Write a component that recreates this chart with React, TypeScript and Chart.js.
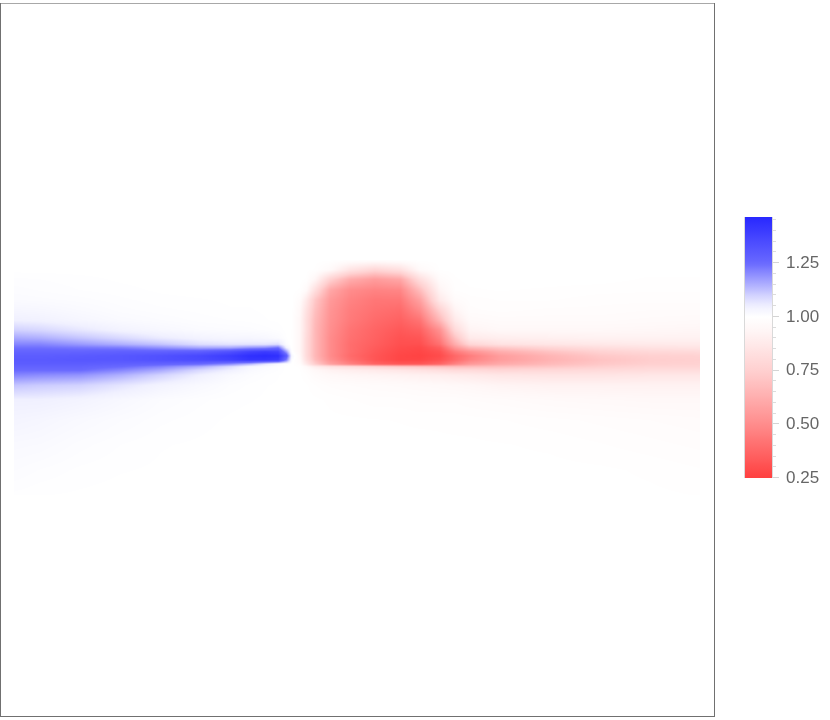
import React, { useEffect, useRef } from "react";
import { Chart, registerables } from "chart.js";

Chart.register(...registerables);

// Sample positions in the plot's own units (0..100 across the image in each direction)
const xGrid = [0, 3.8, 9.6, 15.5, 21.3, 27.1, 31.5, 34.4, 36.6, 38.5, 39.7, 40.5, 41.7, 42.6, 43.9, 46.1, 49, 52.6, 56.3, 59.2, 62.1, 64.3, 66.5, 70.8, 78.1, 85.4, 92.7, 100];
const yGrid = [64.6, 63.2, 61.8, 60.2, 58.8, 57.3, 55.8, 54.4, 53.2, 52.3, 51.8, 51.2, 50.6, 50, 49.4, 49, 48.5, 47.8, 46.3, 44.2, 41.2, 37.6, 33.9, 30.3];

const row01 = [1, 1, 1, 1, 1, 1, 1, 1, 1, 1, 1, 1, 1, 1, 1, 0.998, 0.99, 0.985, 0.99, 1, 1, 1, 1, 1, 1, 1, 1, 1];
const row02 = [1, 1, 1, 1, 1, 1, 1, 1, 1, 1, 1, 1, 1, 1, 0.995, 0.96, 0.85, 0.78, 0.83, 0.96, 0.998, 1, 1, 1, 1, 1, 1, 1];
const row03 = [1.006, 1.005, 1.003, 1.001, 1, 1, 1, 1, 1, 1, 1, 1, 1, 0.995, 0.94, 0.76, 0.62, 0.56, 0.6, 0.82, 0.97, 0.995, 1, 1, 1, 1, 0.995, 0.995];
const row04 = [1.01, 1.008, 1.005, 1.003, 1.001, 1, 1, 1, 1, 1, 1, 1, 0.995, 0.96, 0.82, 0.6, 0.5, 0.47, 0.48, 0.68, 0.93, 0.99, 0.995, 0.997, 0.995, 0.992, 0.99, 0.99];
const row05 = [1.015, 1.013, 1.01, 1.006, 1.003, 1.002, 1.001, 1.001, 1, 1, 1, 1, 0.97, 0.88, 0.72, 0.55, 0.47, 0.43, 0.43, 0.58, 0.88, 0.97, 0.985, 0.99, 0.99, 0.985, 0.985, 0.985];
const row06 = [1.03, 1.027, 1.018, 1.01, 1.006, 1.004, 1.002, 1.002, 1.001, 1, 1, 1, 0.95, 0.84, 0.69, 0.53, 0.45, 0.41, 0.39, 0.5, 0.76, 0.93, 0.98, 0.985, 0.98, 0.98, 0.975, 0.975];
const row07 = [1.05, 1.045, 1.03, 1.018, 1.012, 1.007, 1.005, 1.004, 1.002, 1.001, 1, 0.998, 0.94, 0.82, 0.67, 0.52, 0.44, 0.39, 0.36, 0.42, 0.66, 0.88, 0.96, 0.97, 0.97, 0.97, 0.965, 0.96];
const row08 = [1.1, 1.09, 1.065, 1.04, 1.025, 1.015, 1.012, 1.01, 1.007, 1.004, 1, 0.996, 0.94, 0.82, 0.66, 0.51, 0.42, 0.37, 0.33, 0.36, 0.52, 0.8, 0.93, 0.95, 0.95, 0.95, 0.945, 0.94];
const row09 = [1.16, 1.15, 1.12, 1.09, 1.06, 1.04, 1.03, 1.03, 1.025, 1.015, 1.002, 0.996, 0.94, 0.81, 0.66, 0.5, 0.41, 0.36, 0.31, 0.32, 0.46, 0.7, 0.88, 0.9, 0.91, 0.92, 0.92, 0.92];
const row10 = [1.21, 1.21, 1.18, 1.15, 1.12, 1.08, 1.07, 1.07, 1.07, 1.08, 1.01, 0.996, 0.94, 0.81, 0.66, 0.5, 0.4, 0.35, 0.3, 0.3, 0.41, 0.62, 0.78, 0.84, 0.86, 0.87, 0.88, 0.88];
const row11 = [1.24, 1.24, 1.23, 1.22, 1.19, 1.16, 1.16, 1.19, 1.2, 1.24, 1.05, 0.998, 0.94, 0.81, 0.66, 0.5, 0.4, 0.34, 0.29, 0.28, 0.35, 0.54, 0.66, 0.72, 0.78, 0.82, 0.84, 0.85];
const row12 = [1.27, 1.27, 1.27, 1.28, 1.28, 1.29, 1.33, 1.38, 1.4, 1.38, 1.18, 1.002, 0.94, 0.81, 0.66, 0.5, 0.4, 0.33, 0.28, 0.27, 0.31, 0.44, 0.52, 0.62, 0.7, 0.76, 0.79, 0.8];
const row13 = [1.29, 1.29, 1.3, 1.31, 1.33, 1.36, 1.4, 1.44, 1.45, 1.44, 1.3, 1.03, 0.95, 0.81, 0.66, 0.5, 0.39, 0.32, 0.27, 0.26, 0.29, 0.38, 0.45, 0.56, 0.65, 0.72, 0.75, 0.76];
const row14 = [1.3, 1.3, 1.31, 1.31, 1.33, 1.35, 1.38, 1.42, 1.42, 1.4, 1.22, 1.01, 0.96, 0.83, 0.68, 0.52, 0.41, 0.32, 0.27, 0.27, 0.31, 0.39, 0.47, 0.56, 0.64, 0.7, 0.74, 0.75];
const row15 = [1.29, 1.29, 1.29, 1.28, 1.27, 1.25, 1.2, 1.14, 1.07, 1.02, 1.005, 1, 0.98, 0.88, 0.74, 0.58, 0.47, 0.37, 0.33, 0.33, 0.38, 0.47, 0.55, 0.61, 0.67, 0.72, 0.75, 0.76];
const row16 = [1.27, 1.27, 1.27, 1.25, 1.21, 1.15, 1.08, 1.03, 1.015, 1.005, 1, 1, 0.995, 0.96, 0.9, 0.85, 0.82, 0.78, 0.74, 0.72, 0.7, 0.69, 0.69, 0.7, 0.72, 0.75, 0.78, 0.78];
const row17 = [1.25, 1.25, 1.25, 1.21, 1.16, 1.09, 1.05, 1.02, 1.01, 1.005, 1, 1, 0.997, 0.98, 0.95, 0.92, 0.9, 0.88, 0.86, 0.84, 0.82, 0.8, 0.8, 0.78, 0.79, 0.8, 0.81, 0.81];
const row18 = [1.21, 1.2, 1.19, 1.15, 1.1, 1.05, 1.02, 1.01, 1.005, 1.002, 1, 1, 0.998, 0.99, 0.97, 0.95, 0.94, 0.93, 0.92, 0.91, 0.9, 0.89, 0.88, 0.86, 0.85, 0.85, 0.86, 0.86];
const row19 = [1.12, 1.11, 1.1, 1.07, 1.04, 1.02, 1.008, 1.004, 1.002, 1.001, 1, 1, 1, 0.998, 0.99, 0.98, 0.975, 0.97, 0.965, 0.96, 0.955, 0.95, 0.945, 0.93, 0.92, 0.92, 0.92, 0.92];
const row20 = [1.05, 1.05, 1.04, 1.025, 1.012, 1.006, 1.003, 1.002, 1.001, 1, 1, 1, 1, 1, 0.998, 0.995, 0.99, 0.985, 0.985, 0.98, 0.98, 0.98, 0.975, 0.97, 0.96, 0.955, 0.95, 0.95];
const row21 = [1.035, 1.03, 1.02, 1.012, 1.006, 1.003, 1.001, 1, 1, 1, 1, 1, 1, 1, 1, 0.998, 0.998, 0.997, 0.996, 0.995, 0.995, 0.994, 0.993, 0.99, 0.985, 0.98, 0.975, 0.97];
const row22 = [1.02, 1.018, 1.01, 1.005, 1.002, 1.001, 1, 1, 1, 1, 1, 1, 1, 1, 1, 1, 1, 1, 0.999, 0.999, 0.998, 0.998, 0.998, 0.997, 0.995, 0.99, 0.985, 0.98];
const row23 = [1.012, 1.008, 1.004, 1.002, 1.001, 1, 1, 1, 1, 1, 1, 1, 1, 1, 1, 1, 1, 1, 1, 1, 1, 1, 1, 0.999, 0.999, 0.998, 0.995, 0.99];
const row24 = [1.004, 1.002, 1.001, 1, 1, 1, 1, 1, 1, 1, 1, 1, 1, 1, 1, 1, 1, 1, 1, 1, 1, 1, 1, 1, 1, 0.999, 0.998, 0.996];
const heatRows = [row01, row02, row03, row04, row05, row06, row07, row08, row09, row10, row11, row12, row13, row14, row15, row16, row17, row18, row19, row20, row21, row22, row23, row24];

// Colour scale
const stopValues = [0.25, 0.5, 0.75, 0.95, 1, 1.05, 1.1, 1.2, 1.25, 1.465];
const stopRed = [255, 255, 255, 255, 255, 240, 210, 140, 105, 40];
const stopGreen = [64, 140, 208, 248, 255, 240, 210, 140, 105, 40];
const stopBlue = [64, 140, 208, 248, 255, 255, 255, 255, 255, 255];

const legendTicks = [0.25, 0.5, 0.75, 1, 1.25];
const legendRange = [0.25, 1.465];
const FONT = '"Liberation Sans", Arial, sans-serif';

function colourOf(v: number): [number, number, number] {
  const n = stopValues.length;
  if (v <= stopValues[0]) return [stopRed[0], stopGreen[0], stopBlue[0]];
  if (v >= stopValues[n - 1]) return [stopRed[n - 1], stopGreen[n - 1], stopBlue[n - 1]];
  let i = 0;
  while (v > stopValues[i + 1]) i++;
  const t = (v - stopValues[i]) / (stopValues[i + 1] - stopValues[i]);
  return [
    stopRed[i] + (stopRed[i + 1] - stopRed[i]) * t,
    stopGreen[i] + (stopGreen[i + 1] - stopGreen[i]) * t,
    stopBlue[i] + (stopBlue[i + 1] - stopBlue[i]) * t,
  ];
}

function locate(grid: number[], value: number): [number, number] | null {
  const asc = grid[grid.length - 1] > grid[0];
  const lo = asc ? grid[0] : grid[grid.length - 1];
  const hi = asc ? grid[grid.length - 1] : grid[0];
  if (value < lo || value > hi) return null;
  for (let i = 0; i < grid.length - 1; i++) {
    const a = grid[i];
    const b = grid[i + 1];
    if ((value >= a && value <= b) || (value <= a && value >= b)) return [i, (value - a) / (b - a)];
  }
  return null;
}

const densityPlugin = {
  id: "density",
  beforeDatasetsDraw(chart: any) {
    const { ctx, chartArea, scales } = chart;
    const pts = chart.data.datasets[0].data as { v: number }[];
    const nx = xGrid.length;
    const left = Math.round(chartArea.left);
    const top = Math.round(chartArea.top);
    const w = Math.round(chartArea.right) - left;
    const h = Math.round(chartArea.bottom) - top;
    const img = ctx.createImageData(w, h);
    const cols: ([number, number] | null)[] = [];
    for (let px = 0; px < w; px++) cols.push(locate(xGrid, scales.x.getValueForPixel(left + px + 0.5)));
    for (let py = 0; py < h; py++) {
      const r = locate(yGrid, scales.y.getValueForPixel(top + py + 0.5));
      for (let px = 0; px < w; px++) {
        const k = (py * w + px) * 4;
        let c: [number, number, number] = [255, 255, 255];
        const q = cols[px];
        if (r && q) {
          const [j, s] = r;
          const [i, t] = q;
          const a = pts[j * nx + i].v;
          const b = pts[j * nx + i + 1].v;
          const d = pts[(j + 1) * nx + i].v;
          const e = pts[(j + 1) * nx + i + 1].v;
          c = colourOf((a * (1 - t) + b * t) * (1 - s) + (d * (1 - t) + e * t) * s);
        }
        img.data[k] = c[0];
        img.data[k + 1] = c[1];
        img.data[k + 2] = c[2];
        img.data[k + 3] = 255;
      }
    }
    ctx.putImageData(img, left, top);
  },
  afterDatasetsDraw(chart: any) {
    const { ctx, chartArea: a } = chart;
    ctx.save();
    ctx.fillStyle = "#a8a8a8";
    ctx.fillRect(a.left - 1, a.top - 1, a.right - a.left + 2, 1);
    ctx.fillStyle = "#707070";
    ctx.fillRect(a.left - 1, a.top - 1, 1, a.bottom - a.top + 2);
    ctx.fillRect(a.right, a.top - 1, 1, a.bottom - a.top + 2);
    ctx.fillRect(a.left - 1, a.bottom, a.right - a.left + 2, 1);
    ctx.restore();
  },
};

const legendMarksPlugin = {
  id: "legendMarks",
  afterDatasetsDraw(chart: any) {
    const { ctx, chartArea: a, scales } = chart;
    ctx.save();
    ctx.fillStyle = "rgba(170,170,170,0.45)";
    ctx.fillRect(a.left - 1, a.top, 1, a.bottom - a.top);
    ctx.fillRect(a.right, a.top, 1, a.bottom - a.top);
    for (let n = 5; n <= 29; n++) {
      const v = n / 20;
      const major = n % 5 === 0;
      const y = Math.round(scales.y.getPixelForValue(v)) - 0.5;
      ctx.strokeStyle = major ? "#d4d4d4" : "#dcdcdc";
      ctx.lineWidth = 1;
      ctx.beginPath();
      ctx.moveTo(a.right + 1, y);
      ctx.lineTo(a.right + (major ? 7 : 4), y);
      ctx.stroke();
    }
    ctx.restore();
  },
};

export default function App() {
  const mainRef = useRef<HTMLCanvasElement>(null);
  const legendRef = useRef<HTMLCanvasElement>(null);

  useEffect(() => {
    const points: { x: number; y: number; v: number }[] = [];
    heatRows.forEach((row, j) => row.forEach((v, i) => points.push({ x: xGrid[i], y: yGrid[j], v })));

    const main = new Chart(mainRef.current as HTMLCanvasElement, {
      type: "scatter",
      data: { datasets: [{ label: "ratio", data: points as any, pointRadius: 0, pointHoverRadius: 0 }] },
      options: {
        animation: false,
        responsive: false,
        layout: { padding: { left: 1, right: 116, top: 4, bottom: 4 } },
        plugins: { legend: { display: false }, tooltip: { enabled: false } },
        scales: {
          x: { type: "linear", display: false, min: -1.9, max: 102.04 },
          y: { type: "linear", display: false, min: -2.05, max: 102.05 },
        },
      },
      plugins: [densityPlugin as any],
    });

    const legend = new Chart(legendRef.current as HTMLCanvasElement, {
      type: "bar",
      data: {
        labels: ["scale"],
        datasets: [
          {
            data: [legendRange as any],
            barPercentage: 1,
            categoryPercentage: 1,
            backgroundColor: (ctx: any) => {
              const y = ctx.chart.scales.y;
              if (!y) return "#ff8080";
              const y0 = y.getPixelForValue(legendRange[0]);
              const y1 = y.getPixelForValue(legendRange[1]);
              if (!Number.isFinite(y0) || !Number.isFinite(y1)) return "#ff8080";
              const g = ctx.chart.ctx.createLinearGradient(0, y0, 0, y1);
              for (let n = 0; n <= 60; n++) {
                const t = n / 60;
                const c = colourOf(legendRange[0] + (legendRange[1] - legendRange[0]) * t);
                g.addColorStop(t, `rgb(${c[0]},${c[1]},${c[2]})`);
              }
              return g;
            },
          },
        ],
      },
      options: {
        animation: false,
        responsive: false,
        layout: { padding: { left: 15, top: 17, bottom: 17, right: 0 } },
        plugins: { legend: { display: false }, tooltip: { enabled: false } },
        scales: {
          x: { display: false },
          y: {
            position: "right",
            min: legendRange[0],
            max: legendRange[1],
            afterFit: (s: any) => {
              s.width = 58;
              s.paddingTop = 0;
              s.paddingBottom = 0;
            },
            grid: { display: false, drawTicks: false },
            border: { display: false },
            ticks: {
              stepSize: 0.05,
              autoSkip: false,
              padding: 14,
              color: "#666666",
              font: { family: FONT, size: 17 },
              callback: (v: any) => {
                const hit = legendTicks.find((t) => Math.abs(t - Number(v)) < 1e-6);
                return hit === undefined ? "" : hit.toFixed(2);
              },
            },
          },
        },
      },
      plugins: [legendMarksPlugin as any],
    });

    return () => {
      main.destroy();
      legend.destroy();
    };
  }, []);

  return (
    <div style={{ position: "absolute", left: 0, top: 0, width: 830, height: 720, background: "#fff", overflow: "hidden" }}>
      <canvas ref={mainRef} width={830} height={720} style={{ position: "absolute", left: 0, top: 0 }} />
      <canvas ref={legendRef} width={100} height={295} style={{ position: "absolute", left: 730, top: 200 }} />
    </div>
  );
}
